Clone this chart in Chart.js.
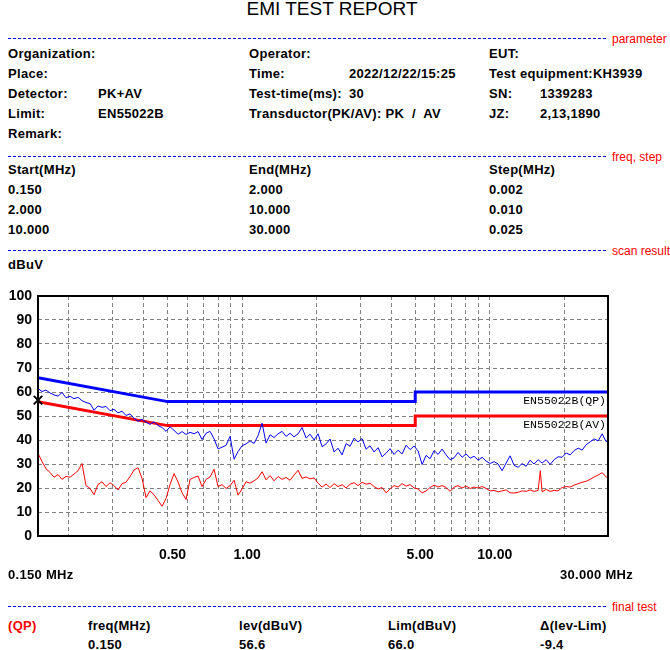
<!DOCTYPE html>
<html><head><meta charset="utf-8">
<script src="https://cdn.jsdelivr.net/npm/chart.js@4/dist/chart.umd.min.js"></script>
<style>
html,body{margin:0;padding:0;background:#fff;}
#page{position:relative;width:670px;height:650px;overflow:hidden;background:#fff;}
.t{position:absolute;font:bold 13px "Liberation Sans",Arial,sans-serif;letter-spacing:0.3px;line-height:13px;white-space:pre;color:#000;}
.r{position:absolute;font:12px "Liberation Sans",Arial,sans-serif;line-height:12px;white-space:pre;color:#f00;}
.sep{position:absolute;left:8px;width:598px;height:1px;background:repeating-linear-gradient(to right,#0000ff 0 3px,transparent 3px 5px);}
#title{position:absolute;left:0;width:664px;text-align:center;top:-1px;font:19px "Liberation Sans",Arial,sans-serif;line-height:19px;color:#000;}
#c{position:absolute;left:0;top:280px;}
</style>
</head><body><div id="page">
<div id="title">EMI TEST REPORT</div>

<div class="sep" style="top:38px"></div><div class="r" style="left:612px;top:33px">parameter</div>
<div class="t" style="left:8px;top:47px">Organization:</div>
<div class="t" style="left:249px;top:47px">Operator:</div>
<div class="t" style="left:489px;top:47px">EUT:</div>
<div class="t" style="left:8px;top:67px">Place:</div>
<div class="t" style="left:249px;top:67px">Time:</div>
<div class="t" style="left:349px;top:67px">2022/12/22/15:25</div>
<div class="t" style="left:489px;top:67px">Test equipment:KH3939</div>
<div class="t" style="left:8px;top:87px">Detector:</div>
<div class="t" style="left:98px;top:87px">PK+AV</div>
<div class="t" style="left:249px;top:87px">Test-time(ms):</div>
<div class="t" style="left:349px;top:87px">30</div>
<div class="t" style="left:489px;top:87px">SN:</div>
<div class="t" style="left:540px;top:87px">1339283</div>
<div class="t" style="left:8px;top:107px">Limit:</div>
<div class="t" style="left:98px;top:107px">EN55022B</div>
<div class="t" style="left:249px;top:107px">Transductor(PK/AV): PK  /  AV</div>
<div class="t" style="left:489px;top:107px">JZ:</div>
<div class="t" style="left:540px;top:107px">2,13,1890</div>
<div class="t" style="left:8px;top:127px">Remark:</div>

<div class="sep" style="top:156px"></div><div class="r" style="left:612px;top:151px">freq, step</div>
<div class="t" style="left:8px;top:163px">Start(MHz)</div>
<div class="t" style="left:249px;top:163px">End(MHz)</div>
<div class="t" style="left:489px;top:163px">Step(MHz)</div>
<div class="t" style="left:8px;top:183px">0.150</div>
<div class="t" style="left:249px;top:183px">2.000</div>
<div class="t" style="left:489px;top:183px">0.002</div>
<div class="t" style="left:8px;top:203px">2.000</div>
<div class="t" style="left:249px;top:203px">10.000</div>
<div class="t" style="left:489px;top:203px">0.010</div>
<div class="t" style="left:8px;top:223px">10.000</div>
<div class="t" style="left:249px;top:223px">30.000</div>
<div class="t" style="left:489px;top:223px">0.025</div>

<div class="sep" style="top:250px"></div><div class="r" style="left:612px;top:245px">scan result</div>
<div class="t" style="left:8px;top:258px">dBuV</div>

<canvas id="c" width="670" height="300"></canvas>

<div class="t" style="left:8px;top:568px">0.150 MHz</div>
<div class="t" style="right:37px;top:568px">30.000 MHz</div>

<div class="sep" style="top:606px"></div><div class="r" style="left:612px;top:601px">final test</div>
<div class="t" style="left:8px;top:619px;color:#f00">(QP)</div>
<div class="t" style="left:88px;top:619px">freq(MHz)</div>
<div class="t" style="left:239px;top:619px">lev(dBuV)</div>
<div class="t" style="left:388px;top:619px">Lim(dBuV)</div>
<div class="t" style="left:540px;top:619px">Δ(lev-Lim)</div>
<div class="t" id="fFreq" style="left:88px;top:638px"></div>
<div class="t" id="fLev" style="left:239px;top:638px"></div>
<div class="t" id="fLim" style="left:388px;top:638px"></div>
<div class="t" id="fDelta" style="left:540px;top:638px"></div>
</div>
<script>
// ---- data ----
const freqMHz = [
0.150,0.1557,0.1616,0.1677,0.1741,0.1807,0.1875,0.1946,0.2020,0.2097,
0.2176,0.2258,0.2344,0.2433,0.2525,0.2621,0.2720,0.2823,0.2930,0.3041,
0.3157,0.3276,0.3400,0.3529,0.3663,0.3802,0.3946,0.4095,0.4250,0.4411,
0.4578,0.4752,0.4932,0.5119,0.5313,0.5514,0.5723,0.5940,0.6165,0.6399,
0.6641,0.6893,0.7154,0.7425,0.7706,0.7998,0.8301,0.8616,0.8942,0.9281,
0.9633,0.9998,1.038,1.077,1.118,1.160,1.204,1.250,1.297,1.346,
1.397,1.450,1.505,1.562,1.621,1.683,1.746,1.813,1.881,1.953,
2.027,2.103,2.183,2.266,2.352,2.441,2.533,2.629,2.729,2.832,
2.939,3.051,3.166,3.286,3.411,3.540,3.674,3.813,3.958,4.108,
4.263,4.425,4.593,4.767,4.947,5.135,5.329,5.531,5.741,5.958,
6.184,6.418,6.662,6.914,7.176,7.448,7.730,8.023,8.327,8.643,
8.970,9.310,9.663,10.03,10.41,10.80,11.21,11.64,12.08,12.53,
13.01,13.50,14.01,14.54,15.09,15.67,15.99,16.26,16.88,17.52,18.18,
18.87,19.58,20.33,21.10,21.90,22.73,23.59,24.48,25.41,26.37,
27.37,28.41,29.49,30.00];

const pkLevel = [
61.5,60.2,60.8,59.6,58.8,58.3,59.8,57.6,58.2,57.2,
57.8,56.4,55.6,55.2,52.4,54.2,53.6,54.0,52.2,52.8,
51.3,52.0,50.2,50.9,49.0,47.8,48.6,47.4,46.5,47.6,
46.0,45.2,43.6,45.5,44.0,42.4,43.5,42.3,43.2,42.6,
43.5,40.2,42.8,43.6,40.5,36.3,37.0,37.8,41.5,32.0,
35.2,37.6,38.4,39.6,38.6,41.8,47.0,38.7,42.2,41.0,
42.6,43.6,41.5,42.8,41.3,42.6,45.2,40.8,42.4,40.0,
42.6,37.2,38.4,40.4,35.0,36.6,33.8,38.5,37.4,40.8,
39.2,40.6,36.2,37.6,35.0,36.8,33.0,34.5,36.4,34.0,
35.8,34.2,37.8,36.0,37.5,35.4,29.8,33.6,32.2,35.6,
34.0,36.2,33.8,31.8,32.6,34.8,32.8,34.2,32.4,33.2,
31.6,32.8,31.2,30.2,31.0,30.0,27.2,30.4,33.4,29.5,
28.6,30.2,29.0,31.6,30.0,31.8,31.0,30.4,31.8,29.8,31.8,
33.0,32.8,34.6,33.8,35.6,36.6,35.8,38.0,39.2,40.5,
39.6,42.6,39.3,39.8];

const avLevel = [
34.5,31.0,28.0,26.5,24.5,25.6,23.6,24.8,24.5,25.8,
27.2,30.2,21.0,19.8,17.2,21.5,22.6,20.6,22.2,21.0,
19.2,21.8,22.4,24.8,27.5,28.5,24.0,16.0,18.8,17.2,
14.8,12.4,15.6,21.5,26.0,22.5,18.0,15.2,23.6,24.4,
25.0,20.6,23.6,24.6,27.8,20.6,21.4,19.8,21.0,23.2,
17.0,19.6,22.6,22.0,23.0,24.2,26.8,23.4,25.2,23.0,
24.8,23.6,24.4,23.2,25.4,27.4,24.0,24.6,23.8,24.2,
22.0,20.4,21.6,20.2,21.8,20.6,21.4,20.0,21.6,22.2,
21.0,22.4,21.6,22.0,20.6,19.6,20.2,18.0,19.6,21.0,
20.4,21.8,20.8,21.4,20.0,19.6,18.0,18.8,20.2,21.2,
20.4,21.0,20.2,18.6,20.4,21.0,20.0,20.8,19.8,20.4,
20.0,20.6,19.8,18.8,19.0,18.4,18.8,19.2,18.0,17.9,
18.2,18.8,18.6,19.2,18.6,19.0,27.2,18.4,19.4,18.6,19.0,
18.8,20.2,20.6,20.4,21.2,21.8,22.4,22.8,23.6,24.6,
25.4,26.4,24.6,24.2];

const limitFreq = [0.15, 0.5, 5, 5, 30];
const qpLimit = [66, 56, 56, 60, 60];
const avLimit = [56, 46, 46, 50, 50];
const limitNames = ['EN55022B(QP)', 'EN55022B(AV)'];

const finalFreq = [0.150];
const finalLevel = [56.6];
const finalLimit = [66.0];

const gridFreqs = [0.2,0.3,0.4,0.5,0.6,0.7,0.8,0.9,1,2,3,4,5,6,7,8,9,10,20];
const xTickValues = [0.5, 1, 5, 10];
const xTickLabels = ['0.50', '1.00', '5.00', '10.00'];
const yTicks = [0,10,20,30,40,50,60,70,80,90,100];

// final test text
document.getElementById('fFreq').textContent = finalFreq[0].toFixed(3);
document.getElementById('fLev').textContent = finalLevel[0].toFixed(1);
document.getElementById('fLim').textContent = finalLimit[0].toFixed(1);
document.getElementById('fDelta').textContent = (finalLevel[0] - finalLimit[0]).toFixed(1);

const toPts = (xs, ys) => xs.map((x, i) => ({x: x, y: ys[i]}));

Chart.defaults.font.family = '"Liberation Sans", Arial, sans-serif';

const overlay = {
  id: 'overlay',
  afterDraw(chart) {
    const {ctx, chartArea: a, scales: {y}} = chart;
    ctx.save();
    ctx.strokeStyle = '#000';
    ctx.lineWidth = 2;
    ctx.strokeRect(a.left, a.top, a.right - a.left, a.bottom - a.top);
    ctx.font = '11.5px "Liberation Mono", "Courier New", monospace';
    ctx.fillStyle = '#000';
    ctx.textAlign = 'right';
    ctx.textBaseline = 'alphabetic';
    ctx.fillText(limitNames[0], a.right - 2, y.getPixelForValue(qpLimit[4]) + 12);
    ctx.fillText(limitNames[1], a.right - 2, y.getPixelForValue(avLimit[4]) + 12);
    ctx.restore();
  }
};

new Chart(document.getElementById('c'), {
  type: 'line',
  data: {
    datasets: [
      {label: limitNames[0], data: toPts(limitFreq, qpLimit), borderColor: '#0000ff', borderWidth: 3, pointRadius: 0, order: 3},
      {label: limitNames[1], data: toPts(limitFreq, avLimit), borderColor: '#ff0000', borderWidth: 3, pointRadius: 0, order: 3},
      {label: 'PK', data: toPts(freqMHz, pkLevel), borderColor: '#0000ff', borderWidth: 1, pointRadius: 0, order: 2},
      {label: 'AV', data: toPts(freqMHz, avLevel), borderColor: '#ff0000', borderWidth: 1, pointRadius: 0, order: 2},
      {label: 'QP final', data: toPts(finalFreq, finalLevel), showLine: false, pointStyle: 'crossRot',
       pointRadius: 6, pointBorderColor: '#000', pointBorderWidth: 2, pointBackgroundColor: '#000', order: 1, clip: false}
    ]
  },
  options: {
    responsive: false, animation: false, devicePixelRatio: 1,
    layout: {padding: {left: 0, right: 62, top: 16, bottom: 14}},
    plugins: {legend: {display: false}, tooltip: {enabled: false}},
    elements: {line: {tension: 0}},
    scales: {
      x: {
        type: 'logarithmic', min: 0.15, max: 30,
        afterBuildTicks: s => { s.ticks = gridFreqs.map(v => ({value: v})); },
        afterFit: s => { s.height = 30; },
        ticks: {
          autoSkip: false, maxRotation: 0, minRotation: 0, padding: 11, labelOffset: 5,
          color: '#000', font: {size: 14, weight: 'bold'},
          callback: v => { const i = xTickValues.indexOf(v); return i >= 0 ? xTickLabels[i] : ''; }
        },
        grid: {color: '#808080', lineWidth: 1, drawTicks: false},
        border: {display: false, dash: [4, 3]}
      },
      y: {
        min: 0, max: 100,
        afterBuildTicks: s => { s.ticks = yTicks.map(v => ({value: v})); },
        afterFit: s => { s.width = 38; },
        ticks: {padding: 6, color: '#000', font: {size: 14, weight: 'bold'}},
        grid: {color: '#808080', lineWidth: 1, drawTicks: false},
        border: {display: false, dash: [4, 3]}
      }
    }
  },
  plugins: [overlay]
});
</script>
</body></html>
